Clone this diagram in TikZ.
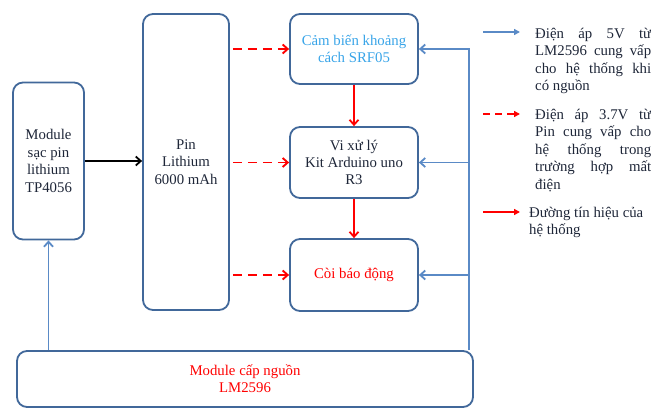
\documentclass[tikz,border=0pt]{standalone}
\usepackage{fontspec}
\setmainfont{Liberation Serif}
\usetikzlibrary{arrows.meta,positioning}
\definecolor{boxline}{HTML}{41689A}
\definecolor{pwrblue}{HTML}{5A8AC6}
\definecolor{sigred}{HTML}{FF0000}
\definecolor{skyblue}{HTML}{38A4E8}
\definecolor{inkdark}{HTML}{1E2638}
\newcommand{\jline}[1]{\makebox[116pt][s]{#1}}

\begin{document}
\begin{tikzpicture}[x=1pt,y=-1pt,font=\fontsize{14.8}{17.4}\selectfont,
    blk/.style={draw=boxline,line width=1.8pt,rounded corners=10pt,inner sep=0pt,align=center,text=inkdark},
    pwr/.style={draw=pwrblue,line width=1.8pt,-{Straight Barb[length=5pt,width=9pt]}},
    bat/.style={draw=sigred,line width=1.9pt,dash pattern=on 9pt off 6pt,-{Straight Barb[length=5pt,width=9pt]}},
    sig/.style={draw=sigred,line width=1.8pt,-{Straight Barb[length=5pt,width=9pt]}},
    keytip/.style={-{Triangle[length=6pt,width=6pt]}},
    note/.style={anchor=north west,inner sep=0pt,align=left,text=inkdark}]
  \useasboundingbox (0,0) rectangle (651,408);
  \node[blk,minimum width=71pt,minimum height=157pt] (sac) at (48.5,161) {Module\\sạc pin\\lithium\\TP4056};
  \node[blk,minimum width=86pt,minimum height=296pt] (pin) at (186,162) {Pin\\Lithium\\6000 mAh};
  \node[blk,minimum width=128pt,minimum height=70pt,text=skyblue] (srf) at (354,49) {Cảm biến khoảng\\cách SRF05};
  \node[blk,minimum width=128pt,minimum height=71pt] (ard) at (354,162.5) {Vi xử lý\\Kit Arduino uno\\R3};
  \node[blk,minimum width=128pt,minimum height=72pt,text=sigred] (coi) at (354,275) {Còi báo động};
  \node[blk,minimum width=456pt,minimum height=56pt,text=sigred] (lm) at (245,379) {Module cấp nguồn\\LM2596};

  \draw[line width=1.8pt,-{Straight Barb[length=5pt,width=9pt]}] (sac.east) -- (sac.east -| pin.west);
  \draw[bat,shorten <=3pt] (pin.east |- srf.west) -- (srf.west);
  \draw[bat,shorten <=3pt] (pin.east |- ard.west) -- (ard.west);
  \draw[bat,shorten <=3pt] (pin.east |- coi.west) -- (coi.west);
  \draw[sig] (srf.south) -- (ard.north);
  \draw[sig] (ard.south) -- (coi.north);

  \coordinate (bus) at ([xshift=-5pt]lm.north east);
  \draw[pwr] (bus) |- (srf.east);
  \draw[pwr] (bus |- ard.east) -- (ard.east);
  \draw[pwr] (bus |- coi.east) -- (coi.east);
  \draw[pwr] (sac.south |- lm.north) -- (sac.south);

  \coordinate (k1) at (483,32);
  \coordinate (k2) at (483,114);
  \coordinate (k3) at (483,212);
  \draw[pwr,keytip] (k1) -- ++(37,0);
  \draw[bat,dash pattern=on 7pt off 5pt,keytip] (k2) -- ++(37,0);
  \draw[sig,keytip] (k3) -- ++(37,0);
  \node[note] (n1) at (535,28) {\jline{Điện áp 5V từ}\\\jline{LM2596 cung vấp}\\\jline{cho hệ thống khi}\\có nguồn};
  \node[note] (n2) at (535,109) {\jline{Điện áp 3.7V từ}\\\jline{Pin cung vấp cho}\\\jline{hệ thống trong}\\\jline{trường hợp mất}\\điện};
  \node[note] (n3) at (529,207) {Đường tín hiệu của\\hệ thống};
\end{tikzpicture}
\end{document}
